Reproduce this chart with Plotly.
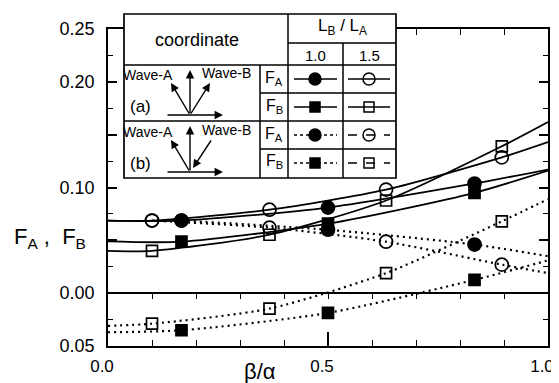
import plotly.graph_objects as go

# ---------------- data ----------------
x_fill = [0.167, 0.5, 0.833]            # L_B/L_A = 1.0 markers
x_open = [0.1, 0.367, 0.632, 0.895]     # L_B/L_A = 1.5 markers
x_ends = [0.0, 1.0]                     # curve end points

# case (a) : solid curves
fa_a_10 = [0.0687, 0.081, 0.1038]
fb_a_10 = [0.0487, 0.0658, 0.095]
fa_a_15 = [0.0687, 0.079, 0.098, 0.1285]
fb_a_15 = [0.040, 0.0553, 0.0877, 0.139]
# case (b) : dotted curves
fa_b_10 = [0.0687, 0.060, 0.046]
fb_b_10 = [-0.0351, -0.0187, 0.0126]
fa_b_15 = [0.0687, 0.062, 0.0487, 0.027]
fb_b_15 = [-0.0289, -0.0146, 0.019, 0.068]

# curve values at x = 0 and x = 1 (None: the curve starts at its first marker)
ends_fa_a_10 = [0.0687, 0.117]
ends_fb_a_10 = [0.049, 0.116]
ends_fa_a_15 = [0.0687, 0.143]
ends_fb_a_15 = [0.040, 0.162]
ends_fa_b_10 = [None, 0.035]
ends_fb_b_10 = [-0.037, 0.031]
ends_fa_b_15 = [None, 0.019]
ends_fb_b_15 = [-0.031, 0.089]

x_ticks = [0.0, 0.5, 1.0]
x_ticklabels = ["0.0", "0.5", "1.0"]
y_ticks = [-0.05, 0.0, 0.05, 0.10, 0.15, 0.20, 0.25]
y_ticklabels = ["0.05", "0.00", "", "0.10", "", "0.20", "0.25"]

# ---------------- geometry helpers ----------------
W, H = 559, 383
L, R, T, B = 100, 540, 21, 338


def fx(px):
    return (px - L) / (R - L)


def fy(py):
    return (B - py) / (B - T)


DOT = "2px,4px"
fig = go.Figure()

series = [
    (x_fill, fa_a_10, ends_fa_a_10, "solid", "circle", 13),
    (x_fill, fb_a_10, ends_fb_a_10, "solid", "square", 11),
    (x_open, fa_a_15, ends_fa_a_15, "solid", "circle-open", 13),
    (x_open, fb_a_15, ends_fb_a_15, "solid", "square-open", 11),
    (x_fill, fa_b_10, ends_fa_b_10, DOT, "circle", 13),
    (x_fill, fb_b_10, ends_fb_b_10, DOT, "square", 11),
    (x_open, fa_b_15, ends_fa_b_15, DOT, "circle-open", 13),
    (x_open, fb_b_15, ends_fb_b_15, DOT, "square-open", 11),
]

for xs, ys, ends, dash, sym, size in series:
    lx, ly = list(xs), list(ys)
    if ends[0] is not None:
        lx, ly = [x_ends[0]] + lx, [ends[0]] + ly
    if ends[1] is not None:
        lx, ly = lx + [x_ends[1]], ly + [ends[1]]
    fig.add_trace(go.Scatter(
        x=lx, y=ly, mode="lines",
        line=dict(color="black", width=1.8 if dash == "solid" else 2.2,
                  dash=dash, shape="spline", smoothing=0.7),
        hoverinfo="skip", showlegend=False))
for xs, ys, ends, dash, sym, size in series:
    fig.add_trace(go.Scatter(
        x=xs, y=ys, mode="markers",
        marker=dict(symbol=sym, size=size, color="black",
                    line=dict(color="black", width=1.7)),
        showlegend=False))

# dummy trace for zero-line axis
fig.add_trace(go.Scatter(x=[None], y=[None], xaxis="x2", yaxis="y",
                         showlegend=False))

ymin, ymax = -0.05, 0.25
pos0 = (0 - ymin) / (ymax - ymin)

fig.update_layout(
    width=W, height=H,
    margin=dict(l=L, r=W - R, t=T, b=H - B, pad=0),
    paper_bgcolor="white", plot_bgcolor="white",
    showlegend=False,
    font=dict(family="Liberation Sans, Arial, sans-serif", color="black"),
    xaxis=dict(domain=[0, 1], range=[0, 1], showgrid=False, automargin=False,
               zeroline=False, showline=True, linecolor="black",
               linewidth=1.8, mirror="ticks", ticks="inside",
               tickvals=x_ticks, ticktext=x_ticklabels, ticklen=14,
               tickwidth=1.6, tickcolor="black",
               minor=dict(tickmode="linear", tick0=0, dtick=0.1,
                          ticks="inside", ticklen=6, tickwidth=1.4,
                          tickcolor="black"),
               tickfont=dict(size=17), ticklabelshift=-6,
               ticklabelstandoff=4),
    xaxis2=dict(overlaying="x", anchor="free", position=pos0,
                side="bottom", range=[0, 1], showgrid=False, automargin=False,
                zeroline=False, showline=True, linecolor="black",
                linewidth=1.8, ticks="outside", ticklen=5,
                tickwidth=1.4, tickcolor="black",
                tickvals=[0.1, 0.2, 0.3, 0.4, 0.5, 0.6, 0.7, 0.8, 0.9],
                showticklabels=False),
    yaxis=dict(domain=[0, 1], range=[ymin, ymax], showgrid=False,
               automargin=False,
               zeroline=False, showline=True, linecolor="black",
               linewidth=1.8, mirror="ticks", ticks="inside",
               tickvals=y_ticks, ticktext=y_ticklabels, ticklen=9,
               tickwidth=1.6, tickcolor="black",
               minor=dict(tickvals=[-0.025, 0.025, 0.075, 0.125, 0.175, 0.225],
                          ticks="inside", ticklen=5, tickwidth=1.4,
                          tickcolor="black"),
               tickfont=dict(size=18), ticklabelstandoff=8),
)

# ---------------- legend table ----------------
shapes = []
lw = 1.5


def hline(x0, x1, y, dash="solid", width=lw):
    shapes.append(dict(type="line", xref="paper", yref="paper",
                       x0=fx(x0), x1=fx(x1), y0=fy(y), y1=fy(y),
                       line=dict(color="black", width=width, dash=dash),
                       layer="above"))


def vline(x, y0, y1):
    shapes.append(dict(type="line", xref="paper", yref="paper",
                       x0=fx(x), x1=fx(x), y0=fy(y0), y1=fy(y1),
                       line=dict(color="black", width=lw), layer="above"))


shapes.append(dict(type="rect", xref="paper", yref="paper",
                   x0=fx(116), x1=fx(388), y0=fy(170), y1=fy(6),
                   fillcolor="white", line=dict(color="black", width=1.7),
                   layer="above"))
vline(252, 57, 170)
vline(280, 6, 170)
vline(335, 35, 170)
hline(280, 388, 35)
hline(116, 388, 57)
hline(252, 388, 85)
hline(116, 388, 113)
hline(252, 388, 141)

rows = [71, 99, 127, 155]
c10, c15 = 307, 361
for i, y in enumerate(rows):
    d10 = "solid" if i < 2 else "dot"
    d15 = "solid" if i < 2 else "dash"
    hline(286, 329, y, dash=d10, width=1.5)
    hline(340, 382, y, dash=d15, width=1.5)


def circle(cx, cy, r, filled):
    shapes.append(dict(type="circle", xref="paper", yref="paper",
                       x0=fx(cx - r), x1=fx(cx + r), y0=fy(cy + r), y1=fy(cy - r),
                       fillcolor="black" if filled else "rgba(0,0,0,0)",
                       line=dict(color="black", width=1.5), layer="above"))


def square(cx, cy, r, filled):
    shapes.append(dict(type="rect", xref="paper", yref="paper",
                       x0=fx(cx - r), x1=fx(cx + r), y0=fy(cy + r), y1=fy(cy - r),
                       fillcolor="black" if filled else "rgba(0,0,0,0)",
                       line=dict(color="black", width=1.5), layer="above"))


circle(c10, rows[0], 6, True)
circle(c15, rows[0], 6, False)
square(c10, rows[1], 5, True)
square(c15, rows[1], 5, False)
circle(c10, rows[2], 6, True)
circle(c15, rows[2], 6, False)
square(c10, rows[3], 5, True)
square(c15, rows[3], 5, False)

fig.update_layout(shapes=shapes)

ann = []


def text(s, x, y, size, xanchor="center"):
    ann.append(dict(text=s, x=fx(x), y=fy(y), xref="paper", yref="paper",
                    showarrow=False, xanchor=xanchor, yanchor="middle",
                    font=dict(size=size, color="black")))


def arrow(hx, hy, tx, ty):
    ann.append(dict(text="", x=fx(hx), y=fy(hy), xref="paper", yref="paper",
                    ax=tx - hx, ay=ty - hy, axref="pixel", ayref="pixel",
                    showarrow=True, arrowhead=2, arrowsize=1.2,
                    arrowwidth=1.4, arrowcolor="black"))


text("coordinate", 189, 32, 18)
text("L<sub>B</sub> / L<sub>A</sub>", 334, 19, 17)
text("1.0", 307, 47, 15)
text("1.5", 361, 47, 15)
for y, lab in zip(rows, ["F<sub>A</sub>", "F<sub>B</sub>",
                         "F<sub>A</sub>", "F<sub>B</sub>"]):
    text(lab, 266, y - 1, 16)

text("Wave-A", 140, 67, 14)
text("Wave-B", 218, 65, 14)
text("(a)", 132, 98, 17)
text("Wave-A", 140, 124, 14)
text("Wave-B", 218, 122, 14)
text("(b)", 132, 155, 17)

# diagram (a)
arrow(182, 62, 182, 107)
arrow(163, 75, 182, 107)
arrow(202, 75, 182, 107)
arrow(215, 107, 158, 107)
# diagram (b)
arrow(182, 118, 182, 164)
arrow(163, 132, 182, 164)
arrow(185, 160, 204, 131)
arrow(215, 164, 158, 164)

# axis titles
text("F<sub>A</sub> ,  F<sub>B</sub>", 42, 230, 22)
text("β/α", 252, 363, 22)

fig.update_layout(annotations=ann)

fig.write_html("out.html")
